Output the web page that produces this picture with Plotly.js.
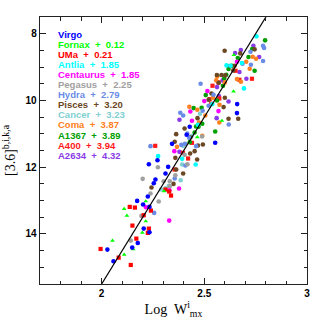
<!DOCTYPE html>
<html>
<head>
<meta charset="utf-8">
<script src="https://cdn.plot.ly/plotly-3.0.1.min.js"></script>
<style>html,body{margin:0;padding:0;background:#fff;}#chart{width:319px;height:319px;}</style>
</head>
<body>
<div id="chart"></div>
<script>
// ---- data ----
const groupNames = ["Virgo","Fornax + 0.12","UMa + 0.21","Antlia + 1.85","Centaurus + 1.85","Pegasus + 2.25","Hydra + 2.79","Pisces + 3.20","Cancer + 3.23","Coma + 3.87","A1367 + 3.89","A400 + 3.94","A2634 + 4.32"];
const groupColors = ["#0000ff","#00ff00","#ff0000","#00ffff","#ff00ff","#a0a0a0","#6b8ce6","#6b4724","#80d0d0","#ff8020","#00a000","#ff1a1a","#8a3ae6"];
const groupSymbols = ["circle","triangle-up","square","circle","circle","circle","circle","circle","circle","circle","circle","square","circle"];

const virgoX = [2.173,2.028,2.058,2.149,2.176,2.205,2.233,2.202,2.225,2.254,2.262,2.311,2.230,2.272,2.324,2.343,2.414,2.429,2.553,2.660,2.659,2.233];
const virgoY = [13.01,14.47,14.82,14.41,14.27,13.84,13.95,13.12,12.88,12.48,12.37,12.19,11.91,11.79,11.99,11.30,11.03,10.79,11.27,10.11,10.38,13.19];

const fornaxX = [2.110,2.123,2.053,2.154,2.110,2.198,2.215,2.304,2.215,2.644,2.642,2.466,2.586];
const fornaxY = [13.25,13.45,14.20,14.46,14.62,13.96,13.62,12.72,13.02,8.64,9.73,11.10,10.61];

const umaX = [2.137,2.162,2.150,2.169,1.995,2.083,2.142,2.205,2.230,2.225,2.240,2.329,2.338,2.311];
const umaY = [13.19,13.21,13.75,14.14,14.45,14.71,14.93,13.44,13.84,13.97,13.30,12.73,12.85,12.67];

const antliaX = [2.754,2.608,2.628,2.693,2.539,2.469,2.275,2.392,2.458,2.683];
const antliaY = [8.08,8.95,8.96,9.64,10.11,10.73,11.67,11.75,11.92,8.88];

const centaurusX = [2.659,2.515,2.500,2.432,2.440,2.569,2.354,2.330,2.377,2.216,2.329];
const centaurusY = [8.84,9.72,10.02,10.33,10.61,10.32,11.52,12.69,12.64,13.20,13.60];

const pegasusX = [2.142,2.194,2.238,2.278,2.200,2.274,2.302,2.332,2.332,2.359,2.418,2.404,2.489];
const pegasusY = [14.20,13.46,12.79,13.03,12.35,12.00,12.42,12.42,12.57,12.24,11.91,11.63,11.08];

const hydraX = [2.786,2.791,2.725,2.786,2.727,2.686,2.482,2.545,2.619,2.397,2.383,2.521,2.492,2.417,2.426,2.388,2.238,2.406,2.460,2.408,2.356,2.256];
const hydraY = [8.36,8.43,8.54,8.82,8.93,8.90,9.50,9.83,10.72,10.45,10.37,10.16,10.31,10.99,11.12,11.33,11.37,11.30,11.37,11.95,12.34,13.37];

const piscesX = [2.745,2.599,2.675,2.647,2.625,2.641,2.561,2.602,2.584,2.570,2.535,2.600,2.521,2.594,2.467,2.618,2.665,2.404,2.363,2.432,2.356,2.469,2.493,2.431,2.453,2.359,2.465,2.363,2.397,2.350,2.243];
const piscesY = [8.47,8.51,8.59,8.96,8.97,9.10,9.24,9.25,9.24,9.47,9.79,9.92,9.98,10.20,10.53,10.55,10.55,10.84,11.01,11.11,11.24,11.35,11.32,11.59,11.52,11.72,11.77,12.07,12.19,12.50,12.61];

const cancerX = [2.290,2.311,2.327,2.385,2.392,2.397,2.437,2.479];
const cancerY = [12.67,12.63,12.56,12.39,11.92,11.36,11.07,10.40];

const comaX = [2.735,2.752,2.704,2.721,2.678,2.563,2.659,2.558,2.600,2.542,2.574,2.427,2.466,2.505,2.474,2.573,2.490,2.367];
const comaY = [8.69,8.75,8.84,9.05,9.44,9.28,9.36,9.40,9.46,9.92,10.13,10.19,10.28,10.45,10.66,10.66,11.06,11.39];

const a1367X = [2.796,2.733,2.715,2.663,2.634,2.618,2.745,2.607,2.597,2.563,2.591,2.507,2.562,2.448,2.487,2.460,2.472,2.490,2.553,2.453,2.429];
const a1367Y = [8.20,8.46,8.70,8.73,8.96,9.06,9.11,9.23,9.34,9.26,9.56,9.84,10.00,10.23,10.22,10.78,10.79,10.70,10.93,10.96,11.25];

const a400X = [2.261,2.440,2.396,2.421,2.652,2.671,2.732,2.573,2.569,2.526,2.540,2.355,2.534];
const a400Y = [11.36,11.27,11.57,11.74,9.11,9.38,9.35,9.94,9.46,9.96,9.56,12.07,10.10];

const a2634X = [2.739,2.678,2.650,2.767,2.671,2.705,2.589,2.562,2.571,2.560,2.379,2.379,2.618];
const a2634Y = [8.36,8.49,8.58,8.70,9.15,9.35,9.40,9.60,9.87,10.53,10.58,11.54,10.03];

const fitX = [2.0, 2.8];
const fitY = [15.5, 7.5];

const xTitle = "Log  W<sup>i</sup><sub>mx</sub>";
const yTitle = "[3.6]<sup>b,i,k,a</sup>";

// ---- traces ----
const groupsX = [virgoX,fornaxX,umaX,antliaX,centaurusX,pegasusX,hydraX,piscesX,cancerX,comaX,a1367X,a400X,a2634X];
const groupsY = [virgoY,fornaxY,umaY,antliaY,centaurusY,pegasusY,hydraY,piscesY,cancerY,comaY,a1367Y,a400Y,a2634Y];

const traces = [];
for (let i = groupNames.length - 1; i >= 0; i--) {
  traces.push({
    x: groupsX[i], y: groupsY[i], type: "scatter", mode: "markers",
    name: groupNames[i], showlegend: false,
    marker: {color: groupColors[i], symbol: groupSymbols[i], size: groupSymbols[i]==="circle"?4.6:4.2, line: {width: 0}}
  });
}
traces.push({x: fitX, y: fitY, type: "scatter", mode: "lines", line: {color: "#000", width: 1.2}, showlegend: false, hoverinfo: "skip"});

const annotations = groupNames.map((n, i) => ({
  text: "<b>" + n.replace(" + ", "\u00a0\u00a0+\u00a0\u00a0") + "</b>", xref: "paper", yref: "paper",
  x: 0.06, y: (284 - (34.7 + i * 10.03)) / 267,
  xanchor: "left", yanchor: "middle", showarrow: false,
  font: {family: "Liberation Sans, Arial, sans-serif", size: 9.5, color: groupColors[i]}
}));

const axisCommon = {
  showgrid: false, zeroline: false, showline: true, linecolor: "#222", linewidth: 1.3,
  mirror: "allticks", ticks: "inside", ticklen: 6, tickwidth: 1.1, tickcolor: "#222",
  tickfont: {family: "Liberation Sans, Arial, sans-serif", size: 10, color: "#000", weight: "bold"}
};

const layout = {
  width: 319, height: 319,
  margin: {l: 40, r: 12, t: 17, b: 35},
  paper_bgcolor: "#fff", plot_bgcolor: "#fff",
  xaxis: Object.assign({}, axisCommon, {
    range: [1.7, 3], tick0: 0, dtick: 0.5,
    minor: {dtick: 0.1, ticks: "inside", ticklen: 3.5, tickwidth: 1, tickcolor: "#222"},
    title: {text: xTitle, font: {family: "Liberation Serif, Times New Roman, serif", size: 14, color: "#000"}, standoff: 3}
  }),
  yaxis: Object.assign({}, axisCommon, {
    range: [15.5, 7.5], tick0: 0, dtick: 2,
    minor: {dtick: 0.5, ticks: "inside", ticklen: 3.5, tickwidth: 1, tickcolor: "#222"},
    title: {text: yTitle, font: {family: "Liberation Serif, Times New Roman, serif", size: 14, color: "#000"}, standoff: 6}
  }),
  annotations: annotations
};

Plotly.newPlot("chart", traces, layout, {displayModeBar: false, staticPlot: true});
</script>
</body>
</html>
